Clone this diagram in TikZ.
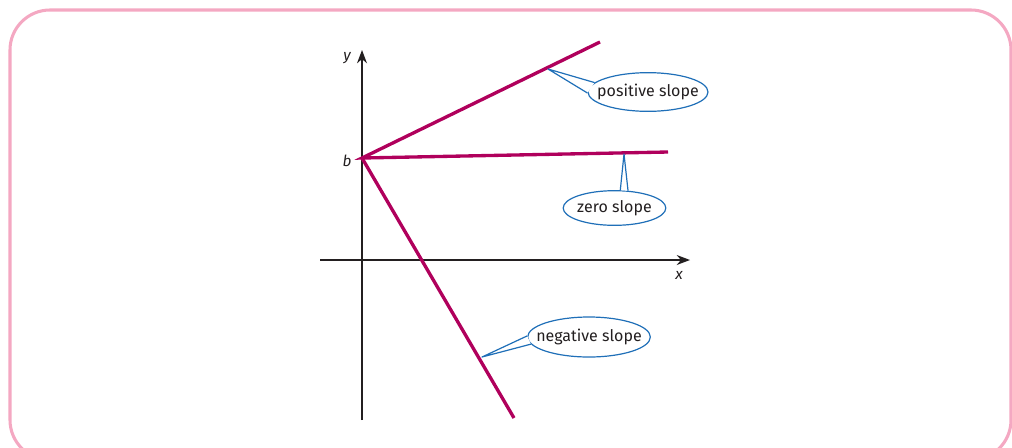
\documentclass[tikz,border=0pt]{standalone}
\usepackage{fontspec}
\setmainfont{Fira Sans}
\usetikzlibrary{shapes.geometric,arrows.meta}
\definecolor{slopered}{HTML}{B0005C}
\definecolor{calloutblue}{HTML}{1F6FB8}
\definecolor{framepink}{HTML}{F4A8C2}
\definecolor{inkgray}{HTML}{231F20}
\tikzset{
  slopeline/.style={slopered,line width=2.5pt},
  axisline/.style={inkgray,line width=1pt,-{Stealth[length=10pt,width=7.5pt]}},
  axislabel/.style={text=inkgray,font=\fontsize{11.5}{13}\selectfont\itshape},
  callout/.style={ellipse,draw=calloutblue,fill=white,line width=0.9pt,inner sep=0pt,
    text=inkgray,font=\fontsize{12}{14}\selectfont},
  calloutline/.style={calloutblue,line width=0.9pt,line join=round}
}
\begin{document}
\begin{tikzpicture}[x=0.75pt,y=-0.75pt]
\useasboundingbox (0,0) rectangle (1012,447);
\begin{scope}
\clip (0,0) rectangle (1012,447);
\draw[framepink,line width=2.3pt,rounded corners=30pt] (10,10) rectangle (1011,460);
\end{scope}
% axes
\coordinate (b) at (362,158);
\draw[axisline] (320,260) -- (690,260);
\draw[axisline] (362,420) -- (362,50);
\node[axislabel] (xlab) at (679,275) {x};
\node[axislabel] (ylab) at (347,58) {y};
\node[axislabel] (blab) at (347,161) {b};
% the three lines through b
\coordinate (pos end) at (600,42);
\coordinate (zero end) at (668,152);
\coordinate (neg end) at (514,418);
\draw[slopeline] (pos end) -- (b) -- (zero end);
\draw[slopeline] (b) -- (neg end);
% callouts
\node[callout,minimum width=90pt,minimum height=29pt] (pos) at (648,92) {\makebox[0pt]{positive slope}};
\node[callout,minimum width=77pt,minimum height=26pt] (zero) at (614.5,208) {\makebox[0pt]{zero slope}};
\node[callout,minimum width=92pt,minimum height=30pt] (neg) at (589,337) {\makebox[0pt]{negative slope}};
\coordinate (pos tip) at (548,69);
\coordinate (zero tip) at (624,154);
\coordinate (neg tip) at (482,357);
\fill[white] (pos tip) -- (pos.170) -- (pos.181) -- cycle;
\draw[calloutline] (pos.170) -- (pos tip) -- (pos.181);
\fill[white] (zero tip) -- (zero.72) -- (zero.52) -- cycle;
\draw[calloutline] (zero.72) -- (zero tip) -- (zero.52);
\fill[white] (neg tip) -- (neg.179) -- (neg.187) -- cycle;
\draw[calloutline] (neg.179) -- (neg tip) -- (neg.187);
\end{tikzpicture}
\end{document}
